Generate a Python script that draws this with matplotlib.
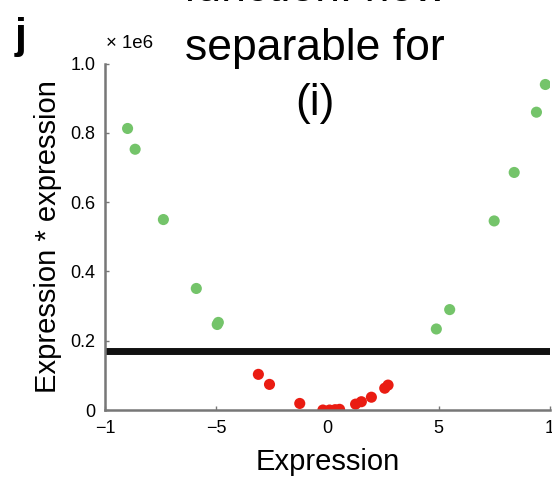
import numpy as np
import matplotlib
matplotlib.use("Agg")
import matplotlib.pyplot as plt

plt.rcParams['font.family'] = ['Liberation Sans', 'DejaVu Sans']

# diem xanh (tach duoc, nam tren duong nguong)
xanh_x = [-8.98, -8.64, -7.37, -5.89, -4.95, -4.9, 4.9, 5.5, 7.5, 8.4, 9.4, 9.8]
xanh_y = [0.813, 0.753, 0.550, 0.351, 0.247, 0.253, 0.234, 0.29, 0.546, 0.686, 0.86, 0.94]

# diem do (nam duoi duong nguong)
do_x = [-3.1, -2.6, -1.24, -0.2, 0.1, 0.35, 0.55, 1.27, 1.53, 1.98, 2.58, 2.73]
do_y = [0.103, 0.074, 0.019, 0.0, 0.0, 0.001, 0.002, 0.017, 0.024, 0.037, 0.063, 0.072]

nguong = 0.17
x_ticks = [-10, -5, 0, 5, 10]
x_labels = ["\u22121", "\u22125", "0", "5", "1"]
y_ticks = [0, 0.2, 0.4, 0.6, 0.8, 1.0]
y_labels = ["0", "0.2", "0.4", "0.6", "0.8", "1.0"]
tieu_de = ["function: now", "separable for", "(i)"]

fig = plt.figure(figsize=(5.52, 4.79), dpi=100)
ax = fig.add_axes([0.190, 0.144, 0.806, 0.723])

ax.scatter(xanh_x, xanh_y, s=64, color="#74c46a", edgecolors="none", zorder=2.2)
ax.scatter(do_x, do_y, s=64, color="#ea1c12", edgecolors="none", zorder=2.2)
ax.axhline(nguong, color="#111111", lw=5, zorder=2.1)

ax.set_xlim(-10, 10)
ax.set_ylim(0, 1.0)
ax.set_xticks(x_ticks)
ax.set_xticklabels(x_labels)
ax.set_yticks(y_ticks)
ax.set_yticklabels(y_labels)
ax.tick_params(direction="in", length=3, width=1, color="#777777", labelsize=13, pad=7)
for s in ["top", "right"]:
    ax.spines[s].set_visible(False)
for s in ["left", "bottom"]:
    ax.spines[s].set_color("#777777")
    ax.spines[s].set_linewidth(1.8)

ax.set_xlabel("Expression", fontsize=21, labelpad=8)
ax.set_ylabel("Expression * expression", fontsize=21, labelpad=6)

fig.text(0.192, 0.910, "\u00d7 1e6", fontsize=13.4, ha="left", va="center")
fig.text(0.027, 0.922, "j", fontsize=31, fontweight="bold", ha="left", va="center")
# tieu de: dong dau bi cat o mep tren nhu hinh goc
for dong, yy in zip(tieu_de, [0.997, 0.875, 0.760]):
    fig.text(0.571, yy, dong, fontsize=32, ha="center", va="baseline")

fig.savefig("out.png", dpi=100)
